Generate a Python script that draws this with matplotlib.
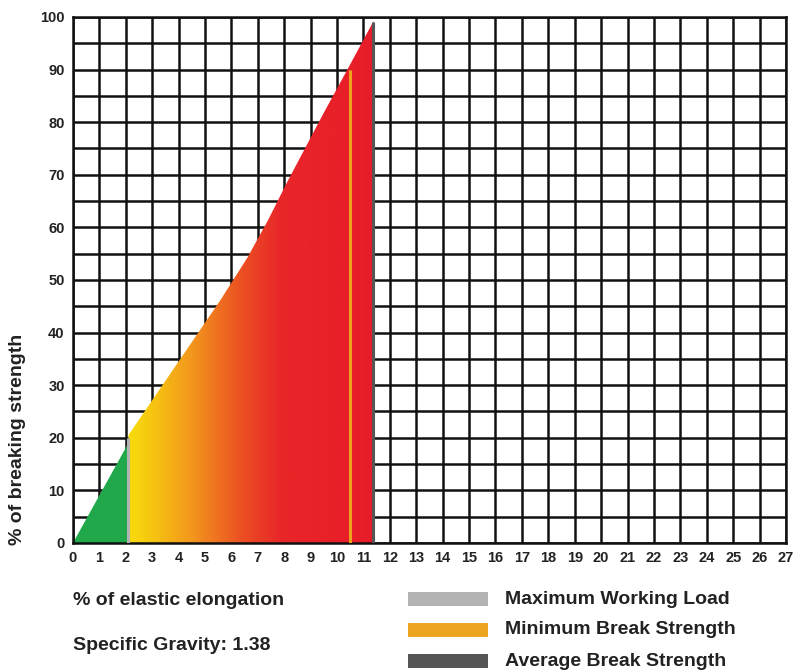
import numpy as np
import matplotlib
matplotlib.use("Agg")
import matplotlib.pyplot as plt
from matplotlib.colors import LinearSegmentedColormap
from matplotlib.patches import Polygon, Rectangle

plt.rcParams["font.family"] = ["Liberation Sans Narrow", "Liberation Sans", "DejaVu Sans"]
plt.rcParams["font.weight"] = "bold"

# ── data ─────────────────────────────────────────────────────
green_x = [0, 2.1]
green_y = [0, 19]
curve_x = [2.1, 4.0, 5.6, 6.6, 7.4, 8.1, 9.5, 10.5, 11.38]
curve_y = [20.5, 34.5, 46.3, 54.2, 61.5, 68.5, 81.8, 91, 99.2]
mwl_x, mwl_y = 2.1, 20      # Maximum Working Load
mbs_x, mbs_y = 10.5, 90     # Minimum Break Strength
abs_x, abs_y = 11.38, 99    # Average Break Strength
x_ticks = list(range(0, 28))
y_ticks = list(range(0, 101, 10))
legend_labels = ["Maximum Working Load", "Minimum Break Strength", "Average Break Strength"]
legend_colors = ["#b3b3b3", "#eca41e", "#555555"]

fig = plt.figure(figsize=(7.94, 6.71), dpi=100)
ax = fig.add_axes([0.0919, 0.1908, 0.898, 0.7839])
ax.set_xlim(0, 27)
ax.set_ylim(0, 100)

# grid: every 1 in x, every 5 in y
ax.set_xticks(x_ticks)
ax.set_yticks(y_ticks)
ax.set_yticks(range(5, 100, 10), minor=True)
ax.grid(True, which="both", color="#111111", lw=1.8, zorder=0)
ax.set_axisbelow(True)
for s in ax.spines.values():
    s.set_color("#111111")
    s.set_linewidth(1.8)
ax.tick_params(which="both", length=0, labelsize=10.5, pad=6)
for lab in ax.get_xticklabels() + ax.get_yticklabels():
    lab.set_fontweight("bold")
    lab.set_color("#222222")

# green zone
ax.fill([green_x[0], green_x[1], green_x[1]], [green_y[0], green_y[1], 0],
        color="#20a84a", lw=0, zorder=2)

# gradient zone (yellow -> orange -> red), clipped to the curve
cmap = LinearSegmentedColormap.from_list("heat", [
    (0.0, "#f8dc0c"), (0.12, "#f6bf12"), (0.26, "#f3961d"),
    (0.45, "#ec5322"), (0.62, "#e8262a"), (1.0, "#e81c28")])
poly_x = [curve_x[0]] + curve_x + [curve_x[-1]]
poly_y = [0] + curve_y + [0]
clip = Polygon(list(zip(poly_x, poly_y)), closed=True, transform=ax.transData,
               facecolor="none", edgecolor="none")
ax.add_patch(clip)
grad = np.linspace(0, 1, 256).reshape(1, -1)
im = ax.imshow(grad, cmap=cmap, aspect="auto",
               extent=[curve_x[0], curve_x[-1], 0, max(curve_y)],
               origin="lower", zorder=2, interpolation="bilinear")
im.set_clip_path(clip)

# marker lines
ax.plot([mwl_x, mwl_x], [0, mwl_y], color=legend_colors[0], lw=2.2, zorder=3,
        solid_capstyle="butt")
ax.plot([mbs_x, mbs_x], [0, mbs_y], color=legend_colors[1], lw=2.2, zorder=3,
        solid_capstyle="butt")
ax.plot([abs_x, abs_x], [0, abs_y], color=legend_colors[2], lw=2.2, zorder=3,
        solid_capstyle="butt")

ax.set_xlim(0, 27)
ax.set_ylim(0, 100)

# y label sits low on the left
fig.text(0.022, 0.345, "% of breaking strength", rotation=90, ha="center", va="center",
         fontsize=14, fontweight="bold", color="#222222")

# bottom texts
fig.text(0.092, 0.105, "% of elastic elongation", ha="left", va="center",
         fontsize=14, fontweight="bold", color="#222222")
fig.text(0.092, 0.038, "Specific Gravity: 1.38", ha="left", va="center",
         fontsize=14, fontweight="bold", color="#222222")

# legend swatches
for i, (lab, col) in enumerate(zip(legend_labels, legend_colors)):
    yc = 1 - (599 + 31 * i) / 671
    fig.patches.append(Rectangle((408 / 794, yc - 7 / 671), 80 / 794, 14 / 671,
                                 transform=fig.transFigure, facecolor=col, edgecolor="none"))
    fig.text(505 / 794, yc, lab, ha="left", va="center", fontsize=14,
             fontweight="bold", color="#222222")

fig.savefig("out.png", dpi=100, facecolor="white")
